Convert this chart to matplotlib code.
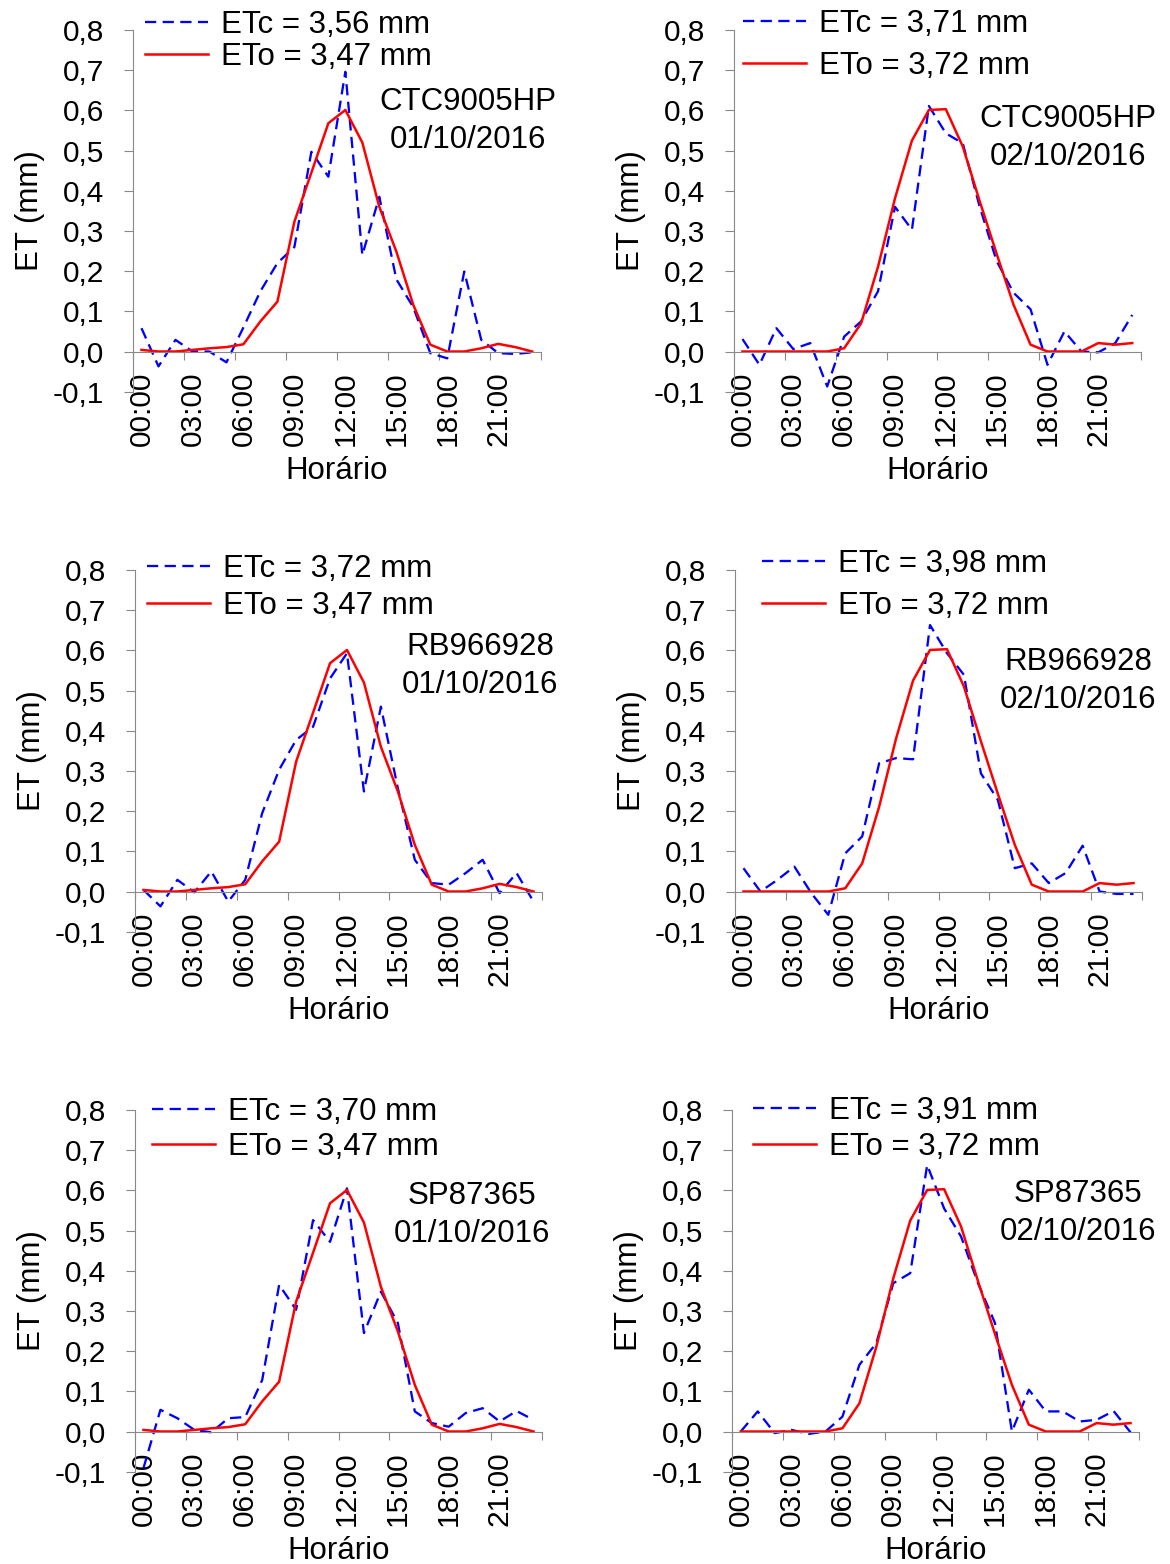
import numpy as np
import matplotlib
matplotlib.use("Agg")
import matplotlib.pyplot as plt
from matplotlib.ticker import NullFormatter

plt.rcParams['font.family'] = ['Liberation Sans', 'DejaVu Sans']

# hourly values (mm), 00:00 .. 23:00
hours = np.arange(24)
hour_ticks = hours[::3]
hour_labels = ['00:00', '03:00', '06:00', '09:00', '12:00', '15:00', '18:00', '21:00']
y_ticks = [-0.1, 0.0, 0.1, 0.2, 0.3, 0.4, 0.5, 0.6, 0.7, 0.8]
y_tick_labels = ['-0,1', '0,0', '0,1', '0,2', '0,3', '0,4', '0,5', '0,6', '0,7', '0,8']

cultivars = ['CTC9005HP', 'RB966928', 'SP87365']
dates = ['01/10/2016', '02/10/2016']

eto_day1 = [0.004, 0.0, 0.0, 0.004, 0.008, 0.011, 0.018, 0.075, 0.124, 0.323, 0.445, 0.568,
            0.601, 0.52, 0.36, 0.249, 0.116, 0.017, 0.0, 0.0, 0.008, 0.019, 0.011, 0.0]
eto_day2 = [0.0, 0.0, 0.0, 0.0, 0.0, 0.0, 0.008, 0.07, 0.211, 0.381, 0.525, 0.601,
            0.603, 0.51, 0.374, 0.243, 0.116, 0.017, 0.0, 0.0, 0.0, 0.021, 0.017, 0.021]

etc_ctc_day1 = [0.058, -0.037, 0.029, 0.0, 0.0, -0.027, 0.06, 0.15, 0.22, 0.26, 0.497, 0.435,
                0.696, 0.24, 0.385, 0.18, 0.11, -0.004, -0.017, 0.199, 0.029, -0.004, -0.006, -0.002]
etc_ctc_day2 = [0.031, -0.033, 0.058, 0.006, 0.021, -0.087, 0.037, 0.075, 0.15, 0.36, 0.303, 0.611,
                0.543, 0.518, 0.36, 0.225, 0.146, 0.105, -0.033, 0.05, 0.0, -0.002, 0.021, 0.091]
etc_rb_day1 = [0.004, -0.037, 0.029, -0.002, 0.05, -0.025, 0.029, 0.195, 0.303, 0.377, 0.41, 0.53,
               0.593, 0.249, 0.46, 0.257, 0.079, 0.021, 0.017, 0.046, 0.079, -0.004, 0.046, -0.025]
etc_rb_day2 = [0.058, 0.0, 0.029, 0.062, -0.004, -0.058, 0.095, 0.137, 0.319, 0.332, 0.329, 0.663,
               0.593, 0.539, 0.294, 0.228, 0.058, 0.07, 0.021, 0.046, 0.114, 0.0, -0.006, -0.006]
etc_sp_day1 = [-0.091, 0.054, 0.033, 0.004, -0.002, 0.033, 0.036, 0.128, 0.365, 0.303, 0.526, 0.472,
               0.605, 0.245, 0.348, 0.27, 0.05, 0.021, 0.012, 0.046, 0.058, 0.025, 0.051, 0.029]
etc_sp_day2 = [0.0, 0.05, -0.004, 0.004, -0.006, 0.0, 0.037, 0.166, 0.22, 0.369, 0.394, 0.663,
               0.555, 0.485, 0.369, 0.27, 0.0, 0.104, 0.05, 0.05, 0.025, 0.029, 0.051, -0.002]

etc_series = [[etc_ctc_day1, etc_ctc_day2], [etc_rb_day1, etc_rb_day2], [etc_sp_day1, etc_sp_day2]]
eto_series = [eto_day1, eto_day2]
etc_totals = [['3,56', '3,71'], ['3,72', '3,98'], ['3,70', '3,91']]
eto_totals = ['3,47', '3,72']

W, H = 1170, 1564
GRAY = '#898989'

# pixel layout per panel: axes (left, right, top, bottom), legend (x, y, row gap), note (x, y)
layout = [
    [((133, 540.7, 30, 391.7), (145, 41.2, 31), (468, 121)),
     ((734, 1140.7, 30, 391.7), (743, 45.2, 41), (1068, 138))],
    [((135, 542, 570, 931.7), (147, 587.3, 36.7), (480, 666)),
     ((735, 1142, 570, 931.7), (762, 585.2, 41), (1078, 681))],
    [((135, 542, 1110, 1471.7), (152, 1129.5, 35), (472, 1215)),
     ((732.3, 1139, 1110, 1471.7), (753, 1129, 36), (1078, 1213))],
]

FS = 22.5
FS_PX = FS * 100 / 72

fig = plt.figure(figsize=(W / 100, H / 100), dpi=100)

for r in range(3):
    for c in range(2):
        (l, rr, t, b), (lx, ly, gap), (nx, ny) = layout[r][c]
        ax = fig.add_axes([l / W, 1 - b / H, (rr - l) / W, (b - t) / H])

        ax.plot(hours, etc_series[r][c], color='#0000FF', lw=1.65,
                linestyle=(0, (4.9, 2.8)), label=f'ETc = {etc_totals[r][c]} mm')
        ax.plot(hours, eto_series[c], color='#FF0000', lw=1.8,
                label=f'ETo = {eto_totals[c]} mm')

        ax.set_xlim(-0.5, 23.5)
        ax.set_ylim(-0.1, 0.8)
        ax.spines['top'].set_visible(False)
        ax.spines['right'].set_visible(False)
        ax.spines['bottom'].set_position(('data', 0))
        for s in ('left', 'bottom'):
            ax.spines[s].set_color(GRAY)
            ax.spines[s].set_linewidth(0.8)

        ax.set_yticks(y_ticks, labels=y_tick_labels)
        ax.set_xticks(np.arange(-0.5, 24, 3))
        ax.xaxis.set_major_formatter(NullFormatter())
        ax.set_xticks(hour_ticks, labels=hour_labels, minor=True)
        ax.tick_params(axis='y', length=6.5, width=0.8, color=GRAY, pad=14.4, labelsize=21.5)
        ax.tick_params(axis='x', which='major', length=6, width=0.8, color=GRAY)
        ax.tick_params(axis='x', which='minor', length=0, pad=14.4, labelsize=21.5, labelrotation=90)

        ax.set_xlabel('Horário', fontsize=FS)
        ax.xaxis.set_label_coords(0.5, -0.177)
        ax.set_ylabel('ET (mm)', fontsize=FS)
        ax.yaxis.set_label_coords(-0.217, 0.5)

        ax.legend(loc='center left', bbox_to_anchor=(lx / W, 1 - ly / H),
                  bbox_transform=fig.transFigure, frameon=False, borderpad=0,
                  borderaxespad=0, handlelength=2.03, handletextpad=0.4,
                  labelspacing=(gap - 29.4) / FS_PX, fontsize=FS)

        fig.text(nx / W, 1 - ny / H, f'{cultivars[r]}\n{dates[c]}', ha='center',
                 va='center', fontsize=FS, linespacing=1.33)

fig.savefig('out.png', dpi=100)
